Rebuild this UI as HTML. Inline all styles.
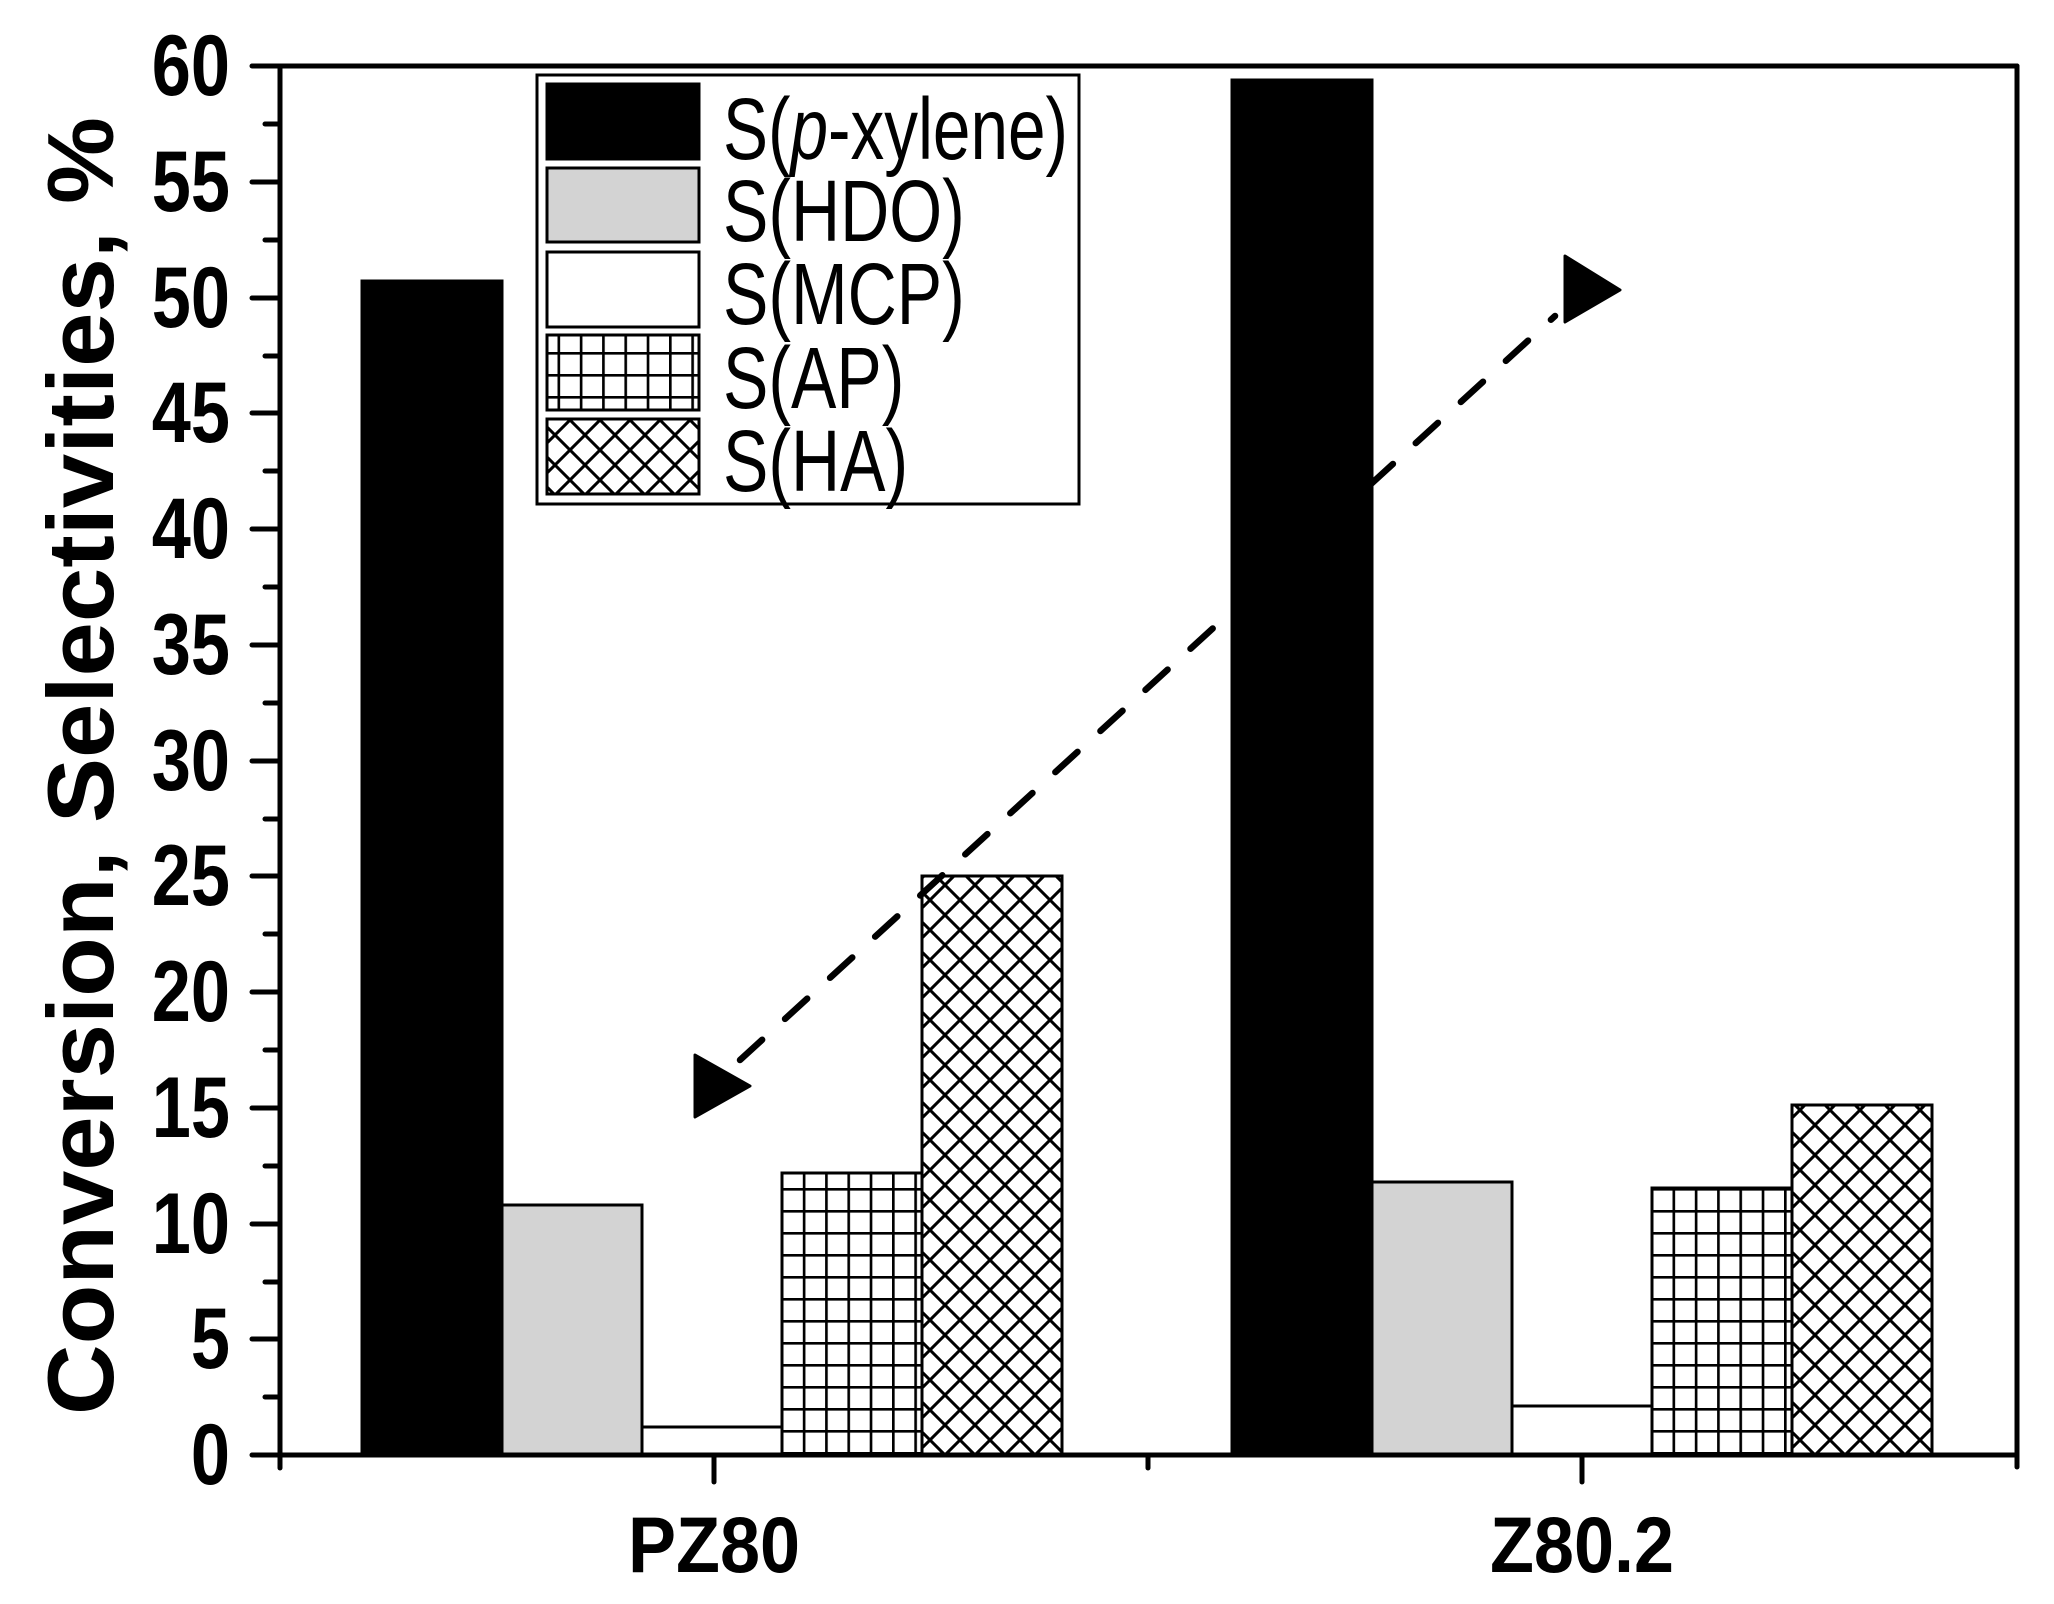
<!DOCTYPE html>
<html><head><meta charset="utf-8"><style>
html,body{margin:0;padding:0;background:#fff;}
svg{display:block;}
text{font-family:"Liberation Sans",Arial,sans-serif;}
</style></head><body>
<svg width="2054" height="1604" viewBox="0 0 2054 1604" xmlns="http://www.w3.org/2000/svg">
<defs>
<pattern id="grid" patternUnits="userSpaceOnUse" width="22.3" height="22" x="0" y="0">
<rect width="22.3" height="22" fill="#fff"/>
<line x1="1.3" y1="0" x2="1.3" y2="22" stroke="#000" stroke-width="2.7"/>
<line x1="0" y1="1.3" x2="22.3" y2="1.3" stroke="#000" stroke-width="2.7"/>
</pattern>
<pattern id="cross" patternUnits="userSpaceOnUse" width="30" height="30" x="0" y="0">
<rect width="30" height="30" fill="#fff"/>
<path d="M-2,-2 L32,32 M32,-2 L-2,32" stroke="#000" stroke-width="3"/>
</pattern>
</defs>

<g stroke="#000" stroke-width="3">
<rect x="362" y="281" width="140" height="1174" fill="#000"/>
<rect x="502" y="1205" width="140" height="250" fill="#d3d3d3"/>
<rect x="642" y="1427" width="140" height="28" fill="#fff"/>
<rect x="782" y="1173" width="140" height="282" fill="url(#grid)"/>
<rect x="922" y="876" width="140" height="579" fill="url(#cross)"/>
<rect x="1232" y="80" width="140" height="1375" fill="#000"/>
<rect x="1372" y="1182" width="140" height="273" fill="#d3d3d3"/>
<rect x="1512" y="1406" width="140" height="49" fill="#fff"/>
<rect x="1652" y="1188" width="140" height="267" fill="url(#grid)"/>
<rect x="1792" y="1105" width="140" height="350" fill="url(#cross)"/>
</g>

<g stroke="#000" stroke-width="5" stroke-linecap="round">
<line x1="280" y1="66" x2="280" y2="1455"/>
<line x1="252" y1="66" x2="2017" y2="66"/>
<line x1="2017" y1="66" x2="2017" y2="1467"/>
<line x1="252" y1="1455" x2="2017" y2="1455"/>
<line x1="252" y1="182" x2="280" y2="182"/>
<line x1="252" y1="298" x2="280" y2="298"/>
<line x1="252" y1="413" x2="280" y2="413"/>
<line x1="252" y1="529" x2="280" y2="529"/>
<line x1="252" y1="645" x2="280" y2="645"/>
<line x1="252" y1="761" x2="280" y2="761"/>
<line x1="252" y1="876" x2="280" y2="876"/>
<line x1="252" y1="992" x2="280" y2="992"/>
<line x1="252" y1="1108" x2="280" y2="1108"/>
<line x1="252" y1="1224" x2="280" y2="1224"/>
<line x1="252" y1="1339" x2="280" y2="1339"/>
<line x1="265" y1="124" x2="280" y2="124"/>
<line x1="265" y1="240" x2="280" y2="240"/>
<line x1="265" y1="356" x2="280" y2="356"/>
<line x1="265" y1="471" x2="280" y2="471"/>
<line x1="265" y1="587" x2="280" y2="587"/>
<line x1="265" y1="703" x2="280" y2="703"/>
<line x1="265" y1="819" x2="280" y2="819"/>
<line x1="265" y1="934" x2="280" y2="934"/>
<line x1="265" y1="1050" x2="280" y2="1050"/>
<line x1="265" y1="1166" x2="280" y2="1166"/>
<line x1="265" y1="1282" x2="280" y2="1282"/>
<line x1="265" y1="1397" x2="280" y2="1397"/>
<line x1="280" y1="1455" x2="280" y2="1468"/>
<line x1="1148" y1="1455" x2="1148" y2="1468"/>
<line x1="714" y1="1455" x2="714" y2="1482"/>
<line x1="1582" y1="1455" x2="1582" y2="1482"/>
</g>

<g font-weight="bold" font-size="74" text-anchor="end" fill="#000">
<text transform="translate(230,95) scale(0.95,1.17)">60</text>
<text transform="translate(230,211) scale(0.95,1.17)">55</text>
<text transform="translate(230,327) scale(0.95,1.17)">50</text>
<text transform="translate(230,442) scale(0.95,1.17)">45</text>
<text transform="translate(230,558) scale(0.95,1.17)">40</text>
<text transform="translate(230,674) scale(0.95,1.17)">35</text>
<text transform="translate(230,790) scale(0.95,1.17)">30</text>
<text transform="translate(230,905) scale(0.95,1.17)">25</text>
<text transform="translate(230,1021) scale(0.95,1.17)">20</text>
<text transform="translate(230,1137) scale(0.95,1.17)">15</text>
<text transform="translate(230,1253) scale(0.95,1.17)">10</text>
<text transform="translate(230,1368) scale(0.95,1.17)">5</text>
<text transform="translate(230,1484) scale(0.95,1.17)">0</text>
</g>

<g font-weight="bold" font-size="72" text-anchor="middle" fill="#000">
<text transform="translate(714,1572) scale(1,1.1)">PZ80</text>
<text transform="translate(1582,1572) scale(1,1.1)">Z80.2</text>
</g>

<text transform="translate(113,766) rotate(-90)" font-weight="bold" font-size="94" text-anchor="middle" textLength="1298" lengthAdjust="spacingAndGlyphs" fill="#000">Conversion, Selectivities, %</text>

<rect x="537" y="75" width="542" height="429" fill="#fff" stroke="#000" stroke-width="3"/>
<g stroke="#000" stroke-width="3">
<rect x="547" y="84" width="152" height="75" fill="#000"/>
<rect x="547" y="168" width="152" height="74" fill="#d3d3d3"/>
<rect x="547" y="252" width="152" height="75" fill="#fff"/>
<rect x="547" y="335" width="152" height="75" fill="url(#grid)"/>
<rect x="547" y="419" width="152" height="75" fill="url(#cross)"/>
</g>
<g font-size="68" fill="#000">
<text transform="translate(723,159) scale(1,1.28)" textLength="345" lengthAdjust="spacingAndGlyphs">S(<tspan font-style="italic">p</tspan>-xylene)</text>
<text transform="translate(723,241) scale(1,1.28)">S(HDO)</text>
<text transform="translate(723,324) scale(1,1.28)">S(MCP)</text>
<text transform="translate(723,408) scale(1,1.28)">S(AP)</text>
<text transform="translate(723,491) scale(1,1.28)">S(HA)</text>
</g>

<line x1="740" y1="1060" x2="1555" y2="316" stroke="#000" stroke-width="6.5" stroke-linecap="round" stroke-dasharray="30 31"/>
<polygon points="695,1055 750,1086 695,1117" fill="#000" stroke="#000" stroke-width="3" stroke-linejoin="round"/>
<polygon points="1565,256 1620,290 1565,322" fill="#000" stroke="#000" stroke-width="3" stroke-linejoin="round"/>
</svg>
</body></html>
